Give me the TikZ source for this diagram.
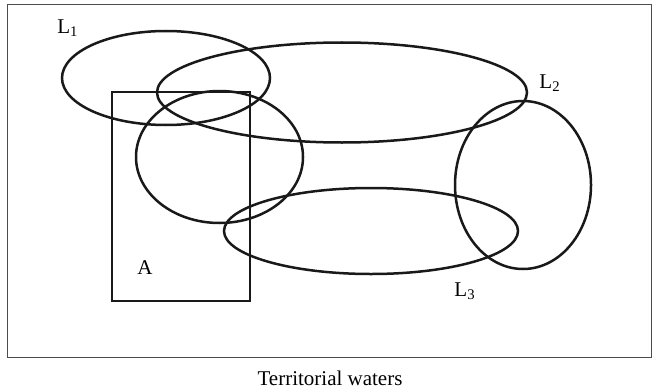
\documentclass[tikz,border=0pt]{standalone}
\usepackage{fontspec}
\setmainfont{Liberation Serif}
\begin{document}
\begin{tikzpicture}[x=0.5pt,y=-0.5pt,
  loop/.style={draw=black!90,line width=1.25pt},
  frame/.style={draw=black!70,line width=0.6pt},
  lbl/.style={font=\fontsize{10.5pt}{12pt}\selectfont,inner sep=0pt}]
\useasboundingbox (0,0) rectangle (656,390);
\node[frame,minimum width=322pt,minimum height=176.5pt,inner sep=0pt] (world) at (329.5,181) {};
\draw[loop] (166,78) ellipse [x radius=104, y radius=47];
\draw[loop] (342,92.5) ellipse [x radius=185, y radius=50];
\draw[loop] (219.5,157) ellipse [x radius=83.5, y radius=66];
\draw[loop] (523,185) ellipse [x radius=68, y radius=84];
\draw[loop] (371,231) ellipse [x radius=147, y radius=43];
\draw[loop] (112,92) rectangle (250,301);
\node[lbl] (l1) at (68,28) {L\textsubscript{1}};
\node[lbl] (l2) at (550,83) {L\textsubscript{2}};
\node[lbl] (l3) at (465,291) {L\textsubscript{3}};
\node[lbl] (a) at (145,268) {A};
\node[lbl] (cap) at (330,378) {Territorial waters};
\end{tikzpicture}
\end{document}
